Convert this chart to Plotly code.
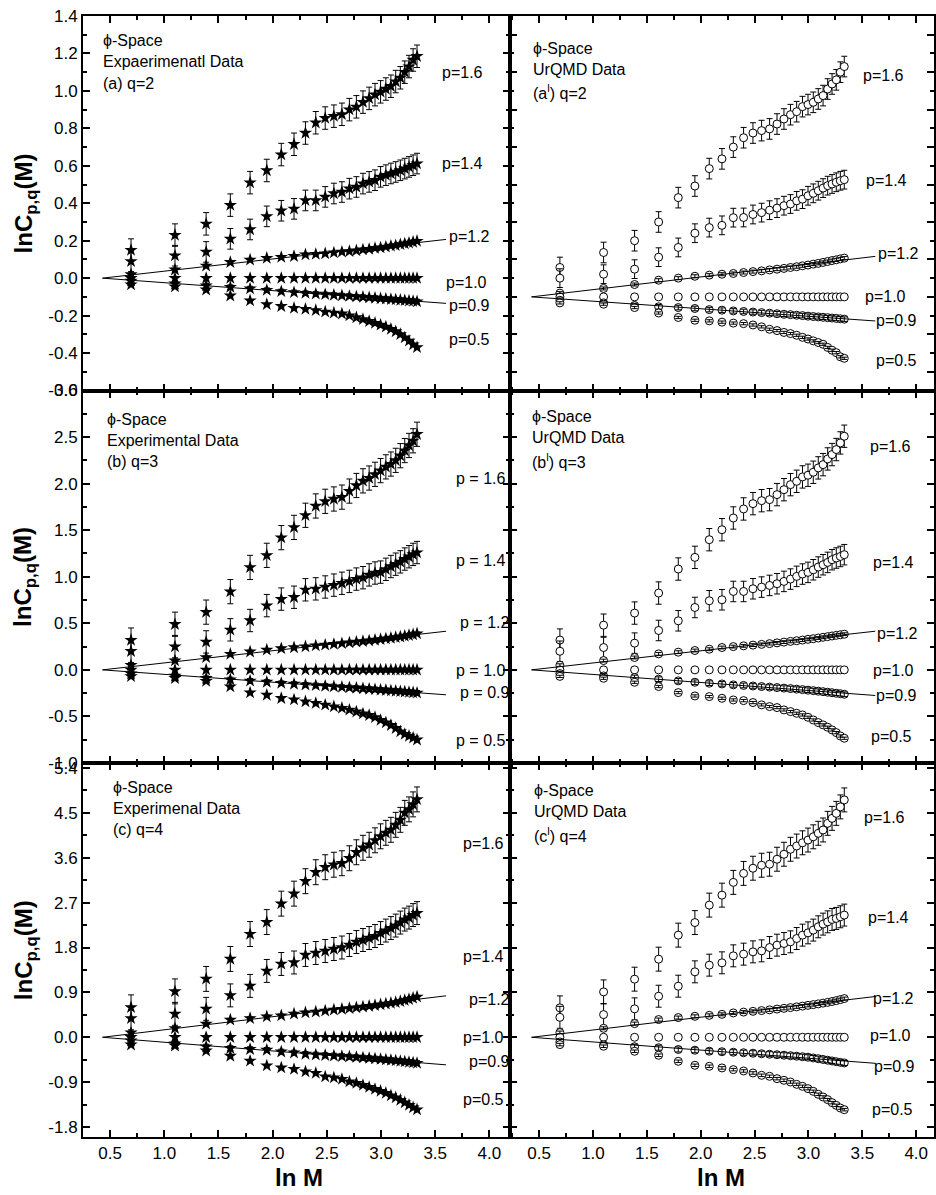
import numpy as np
import plotly.graph_objects as go

# ---------------- data ----------------
M = list(range(2, 29))            # M = 2 ... 28
lnM = np.log(M)

p_values = ["1.6", "1.4", "1.2", "1.0", "0.9", "0.5"]

# (a) experimental, q=2
A16 = [0.15, 0.23, 0.29, 0.39, 0.51, 0.575, 0.66, 0.715, 0.775, 0.83, 0.855, 0.865, 0.875, 0.90, 0.915, 0.94, 0.96, 0.98, 0.995, 1.01, 1.025, 1.05, 1.07, 1.10, 1.13, 1.165, 1.185]
A14 = [0.09, 0.12, 0.14, 0.21, 0.26, 0.33, 0.36, 0.37, 0.415, 0.415, 0.434, 0.452, 0.46, 0.478, 0.487, 0.505, 0.514, 0.523, 0.541, 0.55, 0.559, 0.567, 0.576, 0.585, 0.594, 0.603, 0.612]
A12 = [0.02, 0.045, 0.066, 0.085, 0.098, 0.107, 0.112, 0.117, 0.126, 0.128, 0.131, 0.136, 0.14, 0.143, 0.147, 0.152, 0.155, 0.16, 0.163, 0.167, 0.172, 0.175, 0.18, 0.184, 0.188, 0.193, 0.198]
A10 = [0.0] * 27
A09 = [-0.015, -0.03, -0.04, -0.048, -0.056, -0.064, -0.071, -0.076, -0.08, -0.084, -0.087, -0.09, -0.093, -0.096, -0.099, -0.101, -0.104, -0.106, -0.109, -0.111, -0.113, -0.115, -0.117, -0.119, -0.121, -0.123, -0.125]
A05 = [-0.035, -0.045, -0.062, -0.094, -0.12, -0.14, -0.15, -0.16, -0.165, -0.172, -0.18, -0.185, -0.19, -0.2, -0.21, -0.22, -0.23, -0.24, -0.25, -0.26, -0.272, -0.285, -0.3, -0.318, -0.335, -0.355, -0.37]
A_err = [0.06, 0.055, 0.008, 0.0, 0.012, 0.005]

# (b) experimental, q=3
B16 = [0.32, 0.49, 0.62, 0.84, 1.10, 1.23, 1.42, 1.53, 1.66, 1.76, 1.81, 1.835, 1.855, 1.92, 1.98, 2.03, 2.06, 2.10, 2.14, 2.18, 2.21, 2.25, 2.30, 2.355, 2.41, 2.46, 2.53]
B14 = [0.20, 0.25, 0.30, 0.43, 0.53, 0.69, 0.76, 0.78, 0.86, 0.87, 0.89, 0.91, 0.93, 0.95, 0.975, 0.99, 1.02, 1.04, 1.05, 1.08, 1.11, 1.135, 1.16, 1.19, 1.215, 1.24, 1.26]
B12 = [0.05, 0.10, 0.135, 0.17, 0.195, 0.215, 0.23, 0.24, 0.25, 0.26, 0.268, 0.276, 0.284, 0.292, 0.30, 0.307, 0.314, 0.321, 0.328, 0.335, 0.342, 0.349, 0.356, 0.364, 0.372, 0.38, 0.39]
B10 = [0.0] * 27
B09 = [-0.04, -0.065, -0.09, -0.104, -0.118, -0.13, -0.143, -0.152, -0.16, -0.167, -0.173, -0.179, -0.185, -0.19, -0.195, -0.2, -0.205, -0.21, -0.215, -0.219, -0.223, -0.227, -0.231, -0.235, -0.239, -0.243, -0.247]
B05 = [-0.07, -0.09, -0.12, -0.18, -0.245, -0.27, -0.305, -0.32, -0.34, -0.358, -0.376, -0.394, -0.41, -0.43, -0.45, -0.47, -0.487, -0.51, -0.54, -0.566, -0.595, -0.627, -0.663, -0.69, -0.71, -0.73, -0.75]
B_err = [0.13, 0.12, 0.015, 0.0, 0.025, 0.01]

# (c) experimental, q=4
C16 = [0.60, 0.92, 1.17, 1.57, 2.07, 2.31, 2.68, 2.88, 3.13, 3.31, 3.41, 3.46, 3.49, 3.59, 3.71, 3.80, 3.86, 3.95, 4.03, 4.10, 4.16, 4.26, 4.36, 4.50, 4.57, 4.67, 4.77]
C14 = [0.38, 0.47, 0.57, 0.84, 1.03, 1.33, 1.47, 1.50, 1.65, 1.69, 1.73, 1.77, 1.80, 1.85, 1.91, 1.95, 1.99, 2.03, 2.09, 2.14, 2.19, 2.24, 2.30, 2.36, 2.40, 2.45, 2.49]
C12 = [0.09, 0.18, 0.27, 0.35, 0.38, 0.415, 0.435, 0.47, 0.495, 0.51, 0.53, 0.55, 0.565, 0.58, 0.595, 0.61, 0.625, 0.64, 0.655, 0.67, 0.685, 0.70, 0.72, 0.74, 0.76, 0.785, 0.81]
C10 = [0.0] * 27
C09 = [-0.07, -0.13, -0.19, -0.22, -0.24, -0.255, -0.29, -0.31, -0.335, -0.35, -0.36, -0.37, -0.38, -0.39, -0.40, -0.41, -0.42, -0.43, -0.44, -0.45, -0.46, -0.47, -0.48, -0.49, -0.50, -0.51, -0.52]
C05 = [-0.15, -0.17, -0.27, -0.375, -0.475, -0.57, -0.61, -0.64, -0.69, -0.72, -0.79, -0.81, -0.84, -0.89, -0.92, -0.96, -1.0, -1.04, -1.08, -1.12, -1.17, -1.21, -1.26, -1.31, -1.36, -1.41, -1.45]
C_err = [0.25, 0.23, 0.03, 0.0, 0.05, 0.02]

# (a') UrQMD, q=2
D16 = [0.157, 0.237, 0.30, 0.40, 0.53, 0.592, 0.685, 0.737, 0.80, 0.85, 0.875, 0.888, 0.897, 0.923, 0.95, 0.973, 0.989, 1.016, 1.027, 1.039, 1.057, 1.075, 1.11, 1.137, 1.159, 1.20, 1.23]
D14 = [0.10, 0.121, 0.148, 0.212, 0.264, 0.34, 0.37, 0.382, 0.423, 0.424, 0.44, 0.45, 0.463, 0.474, 0.487, 0.496, 0.513, 0.522, 0.54, 0.553, 0.567, 0.581, 0.594, 0.603, 0.612, 0.62, 0.626]
D12 = [0.02, 0.045, 0.066, 0.089, 0.10, 0.11, 0.116, 0.121, 0.125, 0.13, 0.135, 0.139, 0.144, 0.148, 0.152, 0.157, 0.161, 0.166, 0.170, 0.175, 0.179, 0.184, 0.189, 0.194, 0.198, 0.203, 0.207]
D10 = [0.0] * 27
D09 = [-0.018, -0.032, -0.046, -0.053, -0.057, -0.062, -0.068, -0.071, -0.075, -0.078, -0.081, -0.084, -0.087, -0.09, -0.093, -0.095, -0.098, -0.1, -0.103, -0.105, -0.107, -0.109, -0.111, -0.113, -0.115, -0.117, -0.119]
D05 = [-0.032, -0.039, -0.057, -0.086, -0.11, -0.125, -0.128, -0.135, -0.14, -0.143, -0.15, -0.16, -0.173, -0.18, -0.19, -0.196, -0.205, -0.216, -0.225, -0.235, -0.244, -0.253, -0.27, -0.285, -0.298, -0.32, -0.328]
D_err = [0.055, 0.05, 0.008, 0.0, 0.012, 0.006]

# (b') UrQMD, q=3
E16 = [0.32, 0.48, 0.61, 0.825, 1.083, 1.208, 1.398, 1.505, 1.631, 1.728, 1.785, 1.817, 1.828, 1.882, 1.935, 1.989, 2.025, 2.072, 2.09, 2.122, 2.169, 2.204, 2.265, 2.312, 2.366, 2.437, 2.509]
E14 = [0.20, 0.24, 0.287, 0.423, 0.527, 0.67, 0.742, 0.753, 0.842, 0.842, 0.871, 0.889, 0.907, 0.925, 0.95, 0.975, 1.004, 1.029, 1.047, 1.075, 1.104, 1.129, 1.154, 1.183, 1.201, 1.218, 1.237]
E12 = [0.05, 0.10, 0.133, 0.172, 0.19, 0.208, 0.222, 0.24, 0.25, 0.258, 0.266, 0.274, 0.282, 0.29, 0.298, 0.306, 0.313, 0.32, 0.328, 0.335, 0.342, 0.35, 0.357, 0.364, 0.371, 0.377, 0.383]
E10 = [0.0] * 27
E09 = [-0.04, -0.065, -0.082, -0.10, -0.118, -0.133, -0.143, -0.151, -0.161, -0.167, -0.173, -0.179, -0.185, -0.19, -0.196, -0.201, -0.207, -0.212, -0.218, -0.223, -0.229, -0.234, -0.24, -0.245, -0.251, -0.256, -0.262]
E05 = [-0.07, -0.09, -0.133, -0.179, -0.244, -0.28, -0.287, -0.305, -0.323, -0.33, -0.351, -0.376, -0.394, -0.405, -0.43, -0.448, -0.466, -0.484, -0.509, -0.538, -0.566, -0.591, -0.616, -0.645, -0.674, -0.71, -0.734]
E_err = [0.12, 0.11, 0.015, 0.0, 0.025, 0.012]

# (c') UrQMD, q=4
F16 = [0.59, 0.91, 1.165, 1.566, 2.048, 2.30, 2.65, 2.85, 3.106, 3.286, 3.39, 3.45, 3.47, 3.57, 3.67, 3.77, 3.835, 3.90, 3.955, 4.02, 4.09, 4.157, 4.29, 4.39, 4.49, 4.62, 4.76]
F14 = [0.40, 0.455, 0.57, 0.823, 1.024, 1.312, 1.446, 1.493, 1.633, 1.667, 1.713, 1.733, 1.80, 1.847, 1.88, 1.914, 1.98, 2.048, 2.094, 2.149, 2.215, 2.269, 2.315, 2.363, 2.383, 2.416, 2.45]
F12 = [0.094, 0.18, 0.274, 0.355, 0.395, 0.42, 0.44, 0.46, 0.488, 0.505, 0.52, 0.535, 0.55, 0.565, 0.58, 0.595, 0.61, 0.625, 0.64, 0.655, 0.67, 0.685, 0.70, 0.717, 0.735, 0.755, 0.776]
F10 = [0.0] * 27
F09 = [-0.094, -0.15, -0.19, -0.21, -0.245, -0.26, -0.28, -0.29, -0.30, -0.31, -0.32, -0.33, -0.34, -0.35, -0.36, -0.37, -0.38, -0.39, -0.40, -0.415, -0.43, -0.445, -0.46, -0.475, -0.49, -0.503, -0.515]
F05 = [-0.147, -0.18, -0.281, -0.361, -0.482, -0.562, -0.582, -0.615, -0.649, -0.676, -0.716, -0.763, -0.783, -0.83, -0.863, -0.897, -0.944, -0.984, -1.03, -1.084, -1.144, -1.198, -1.251, -1.311, -1.365, -1.419, -1.452]
F_err = [0.24, 0.22, 0.03, 0.0, 0.05, 0.025]

# tick values
xticks = [0.5, 1.0, 1.5, 2.0, 2.5, 3.0, 3.5, 4.0]
yticks_q2 = [-0.6, -0.4, -0.2, 0.0, 0.2, 0.4, 0.6, 0.8, 1.0, 1.2, 1.4]
yticks_q3 = [-1.0, -0.5, 0.0, 0.5, 1.0, 1.5, 2.0, 2.5, 3.0]
yticks_q4 = [-1.8, -0.9, 0.0, 0.9, 1.8, 2.7, 3.6, 4.5, 5.4]

panel_texts = [
    ["ϕ-Space", "Expaerimenatl Data", "(a) q=2"],
    ["ϕ-Space", "UrQMD Data", "(a<sup>l</sup>) q=2"],
    ["ϕ-Space", "Experimental Data", "(b) q=3"],
    ["ϕ-Space", "UrQMD Data", "(b<sup>l</sup>) q=3"],
    ["ϕ-Space", "Experimenal Data", "(c) q=4"],
    ["ϕ-Space", "UrQMD Data", "(c<sup>l</sup>) q=4"],
]

# ---------------- layout helpers ----------------
W, H = 936, 1195
L, T, R, B = 83, 16, 0, 58
PW, PH = W - L - R, H - T - B
BOT = T + PH


def pxx(px):
    return (px - L) / PW


def pxy(py):
    return (BOT - py) / PH


col_px = [(83, 511), (511, 936)]
row_px = [(16, 390.5), (390.5, 763), (763, 1137)]
x_ranges = [[0.25, 4.19], [0.23, 4.165]]

panels = [
    dict(series=[A16, A14, A12, A10, A09, A05], err=A_err, yr=[-0.6, 1.4], yt=yticks_q2, minor=0.1),
    dict(series=[D16, D14, D12, D10, D09, D05], err=D_err, yr=[-0.5, 1.5], yt=yticks_q2, minor=0.1),
    dict(series=[B16, B14, B12, B10, B09, B05], err=B_err, yr=[-1.0, 3.0], yt=yticks_q3, minor=0.25),
    dict(series=[E16, E14, E12, E10, E09, E05], err=E_err, yr=[-1.0, 3.0], yt=yticks_q3, minor=0.25),
    dict(series=[C16, C14, C12, C10, C09, C05], err=C_err, yr=[-2.0, 5.5], yt=yticks_q4, minor=0.45),
    dict(series=[F16, F14, F12, F10, F09, F05], err=F_err, yr=[-2.0, 5.5], yt=yticks_q4, minor=0.45),
]

# label positions in pixels (centre) for p labels
plabel_px = [
    [(463, 72), (463, 163), (470, 237), (467, 283), (470, 305), (470, 339)],
    [(885, 76), (888, 180), (900, 254), (887, 297), (898, 320), (898, 360)],
    [(481, 478), (481, 560), (485, 622), (481, 670), (485, 692), (481, 740)],
    [(892, 447), (895, 562), (899, 633), (895, 670), (898, 695), (893, 736)],
    [(484, 843), (484, 957), (490, 1000), (484, 1037), (490, 1061), (484, 1099)],
    [(886, 817), (890, 917), (895, 998), (892, 1035), (896, 1066), (894, 1109)],
]
text_px = [
    (101, [41, 62, 83]),
    (532, [48, 70, 92]),
    (105, [419, 440, 461]),
    (531, [416, 437, 461]),
    (111, [787, 808, 829]),
    (533, [790, 811, 835]),
]

FONT = "Arial, Liberation Sans, sans-serif"
fig = go.Figure()
layout = dict(
    width=W, height=H, margin=dict(l=L, r=R, t=T, b=B, pad=0),
    paper_bgcolor="white", plot_bgcolor="rgba(0,0,0,0)", showlegend=False,
    font=dict(family=FONT, color="black", size=15),
)
annotations = []

x0_fit = 0.43
for i, P in enumerate(panels):
    r, c = divmod(i, 2)
    n = i + 1
    xid = "x" if n == 1 else f"x{n}"
    yid = "y" if n == 1 else f"y{n}"
    xname = "xaxis" if n == 1 else f"xaxis{n}"
    yname = "yaxis" if n == 1 else f"yaxis{n}"
    a, b = col_px[c]
    t_, b_ = row_px[r]
    layout[xname] = dict(
        domain=[pxx(a), pxx(b)], range=x_ranges[c], anchor=yid,
        showline=True, linecolor="black", linewidth=2, mirror="ticks",
        ticks="inside", ticklen=7, tickwidth=1.5, tickcolor="black",
        tickmode="array", tickvals=xticks, ticktext=[f"{v:.1f}" for v in xticks],
        showticklabels=(r == 2), tickfont=dict(size=17, family=FONT, color="black"),
        minor=dict(ticks="inside", ticklen=4, tickwidth=1.5, tickcolor="black", dtick=0.25, tick0=0),
        showgrid=False, zeroline=False, fixedrange=True,
    )
    layout[yname] = dict(
        domain=[pxy(b_), pxy(t_)], range=P["yr"], anchor=xid,
        showline=True, linecolor="black", linewidth=2, mirror="ticks",
        ticks="inside", ticklen=7, tickwidth=1.5, tickcolor="black",
        tickmode="array", tickvals=P["yt"], ticktext=[f"{v:.1f}" for v in P["yt"]],
        showticklabels=(c == 0), tickfont=dict(size=17, family=FONT, color="black"),
        minor=dict(ticks="inside", ticklen=4, tickwidth=1.5, tickcolor="black", dtick=P["minor"], tick0=0),
        showgrid=False, zeroline=False, fixedrange=True,
    )

    if c == 0:
        marker = dict(symbol="star", size=10, color="black", line=dict(width=0))
    else:
        marker = dict(symbol="circle", size=8, color="white", line=dict(color="black", width=1))

    for k, ys in enumerate(P["series"]):
        e = P["err"][k]
        big = k < 2
        err = dict(type="constant", value=e, color="black", thickness=1, width=3, visible=(e > 0 and big))
        fig.add_trace(go.Scatter(x=lnM, y=ys, mode="markers", marker=marker, error_y=err,
                                 xaxis=xid, yaxis=yid, hoverinfo="skip"))
        if e > 0 and not big:
            # small error bars drawn over the symbols
            fig.add_trace(go.Scatter(x=lnM, y=ys, mode="markers",
                                     marker=dict(size=1, color="rgba(0,0,0,0)"),
                                     error_y=dict(type="constant", value=e, color="black", thickness=1, width=3),
                                     xaxis=xid, yaxis=yid, hoverinfo="skip"))

    # straight-line fits for p=1.2 and p=0.9, anchored at the p=1.0 level
    x_end = 3.6 if c == 0 else 3.62
    y_anchor = P["series"][3][0]
    for k in (2, 4):
        ys = np.array(P["series"][k])
        dx = lnM - x0_fit
        slope = np.sum(dx * (ys - y_anchor)) / np.sum(dx * dx)
        xl = np.array([x0_fit, x_end])
        fig.add_trace(go.Scatter(x=xl, y=y_anchor + slope * (xl - x0_fit), mode="lines",
                                 line=dict(color="black", width=1), xaxis=xid, yaxis=yid,
                                 hoverinfo="skip"))

    # p labels
    sep = " = " if i == 2 else "="
    for k, (px_, py_) in enumerate(plabel_px[i]):
        annotations.append(dict(x=pxx(px_), y=pxy(py_), xref="paper", yref="paper",
                                text=f"p{sep}{p_values[k]}", showarrow=False,
                                xanchor="center", yanchor="middle",
                                font=dict(size=16, family=FONT, color="black")))
    # panel description
    tx, tys = text_px[i]
    for line, ty in zip(panel_texts[i], tys):
        annotations.append(dict(x=pxx(tx), y=pxy(ty), xref="paper", yref="paper",
                                text=line, showarrow=False, xanchor="left", yanchor="middle",
                                font=dict(size=16, family=FONT, color="black")))

# axis titles
for r in range(3):
    t_, b_ = row_px[r]
    annotations.append(dict(x=pxx(25), y=pxy((t_ + b_) / 2), xref="paper", yref="paper",
                            text="<b>lnC<sub>p,q</sub>(M)</b>", textangle=-90, showarrow=False,
                            xanchor="center", yanchor="middle",
                            font=dict(size=24, family=FONT, color="black")))
for cx in (300, 722):
    annotations.append(dict(x=pxx(cx), y=pxy(1177), xref="paper", yref="paper",
                            text="<b>ln M</b>", showarrow=False, xanchor="center", yanchor="middle",
                            font=dict(size=24, family=FONT, color="black")))

layout["annotations"] = annotations
fig.update_layout(**layout)
fig.write_html("out.html", config={"displayModeBar": False},
               post_script="document.body.style.margin='0';document.body.style.overflow='hidden';")
